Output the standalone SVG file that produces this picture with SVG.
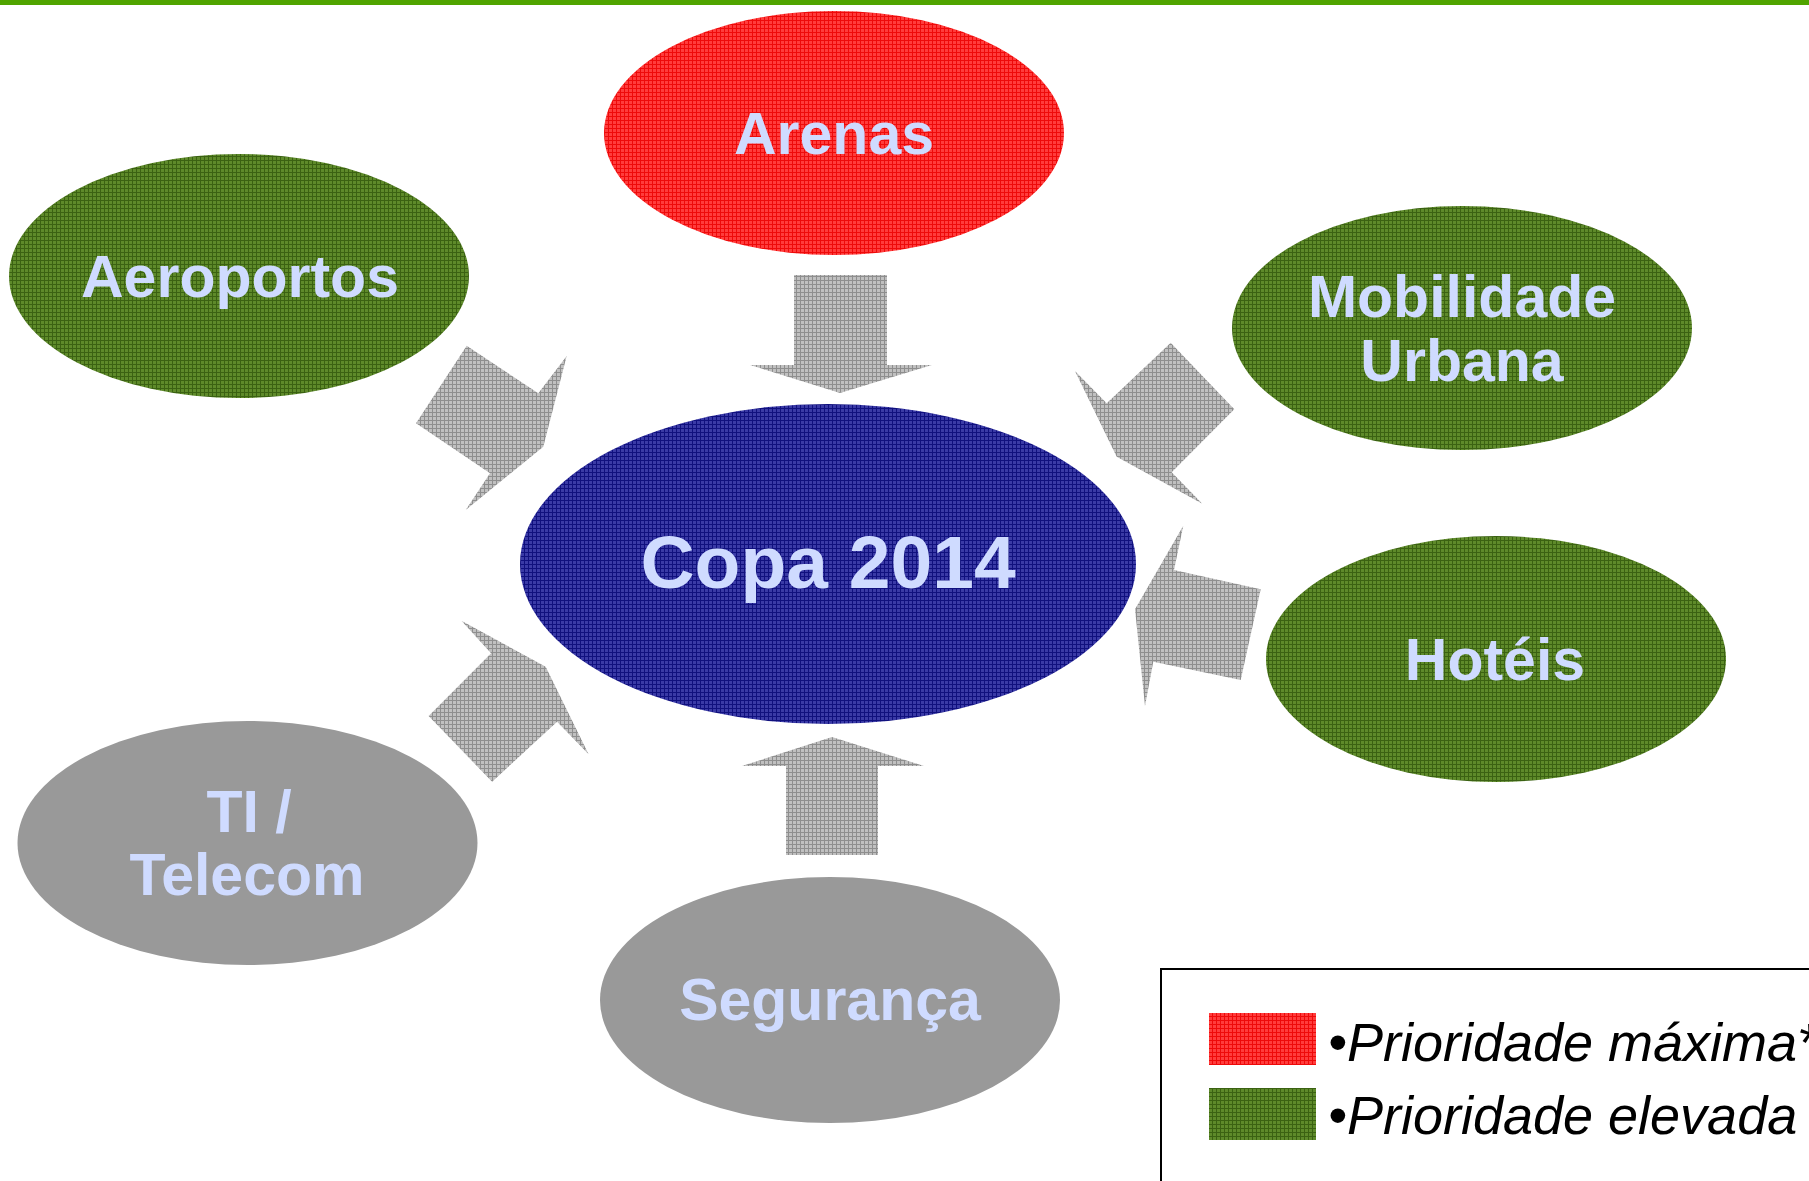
<svg xmlns="http://www.w3.org/2000/svg" width="1809" height="1181" viewBox="0 0 1809 1181">
  <defs>
    <pattern id="pRed" patternUnits="userSpaceOnUse" width="4" height="4">
      <rect width="4" height="4" fill="#ff3c3c"/>
      <rect width="4" height="1" fill="#ee0a0a"/>
      <rect width="1" height="4" fill="#ee0a0a"/>
    </pattern>
    <pattern id="pBlue" patternUnits="userSpaceOnUse" width="4" height="4">
      <rect width="4" height="4" fill="#3a3aa6"/>
      <rect width="4" height="1" fill="#10107e"/>
      <rect width="1" height="4" fill="#10107e"/>
    </pattern>
    <pattern id="pGreen" patternUnits="userSpaceOnUse" width="4" height="4">
      <rect width="4" height="4" fill="#5e8a2a"/>
      <rect width="4" height="1" fill="#3b6212"/>
      <rect width="1" height="4" fill="#3b6212"/>
    </pattern>
    <pattern id="pGray" patternUnits="userSpaceOnUse" width="4" height="4">
      <rect width="4" height="4" fill="#c0c0c0"/>
      <rect width="4" height="1" fill="#8e8e8e"/>
      <rect width="1" height="4" fill="#8e8e8e"/>
    </pattern>
  </defs>
  <style>
    .lbl { font-family: "Liberation Sans", Arial, sans-serif; font-weight: bold; font-size: 59px; fill: #cfdbff; text-anchor: middle; }
    .big { font-size: 75px; }
    .red { fill: url(#pRed); }
    .blue { fill: url(#pBlue); }
    .green { fill: url(#pGreen); }
    .grayn { fill: #999999; }
    .arrow { fill: url(#pGray); }
    .leg { font-family: "Liberation Sans", Arial, sans-serif; font-style: italic; font-size: 54px; fill: #000000; }
  </style>

  <rect x="0" y="0" width="1809" height="1181" fill="#ffffff"/>
  <rect id="topline" x="0" y="0" width="1809" height="5" fill="#50a400"/>

  <g id="connectors">
    <polygon class="arrow" points="794,275 887,275 887,365 932,365 840,393 750,365 794,365"/>
    <polygon class="arrow" points="786,855 878,855 878,766 924,766 832,737 742,766 786,766"/>
    <polygon class="arrow" points="466.7,345.7 538.3,393.3 566.7,356 543.3,446.7 465.7,510 490,473.3 416,423.3"/>
    <polygon class="arrow" points="1170.7,342.7 1234.3,409.3 1171.7,472.3 1202.3,503.7 1116.7,456.7 1075,371 1106.7,403.3"/>
    <polygon class="arrow" points="1260.7,589.3 1240.7,680 1153.3,661.7 1145,706 1135,609.3 1183.3,525.7 1174,570"/>
    <polygon class="arrow" points="428.6,716 492.1,781.7 557.1,721.7 588.6,754.3 545.7,666.7 461.4,620.7 491.1,653.3"/>
  </g>

  <g id="arenas">
    <ellipse class="red" cx="834" cy="133" rx="230" ry="122"/>
    <text class="lbl" x="834" y="154">Arenas</text>
  </g>
  <g id="aeroportos">
    <ellipse class="green" cx="239" cy="276" rx="230" ry="122"/>
    <text class="lbl" x="240" y="297">Aeroportos</text>
  </g>
  <g id="mobilidade">
    <ellipse class="green" cx="1462" cy="328" rx="230" ry="122"/>
    <text class="lbl" x="1462" y="317">Mobilidade</text>
    <text class="lbl" x="1462" y="381">Urbana</text>
  </g>
  <g id="copa">
    <ellipse class="blue" cx="828" cy="564" rx="308" ry="160"/>
    <text class="lbl big" x="828" y="588">Copa 2014</text>
  </g>
  <g id="hoteis">
    <ellipse class="green" cx="1496" cy="659" rx="230" ry="123"/>
    <text class="lbl" x="1495" y="680">Hotéis</text>
  </g>
  <g id="ti">
    <ellipse class="grayn" cx="247.5" cy="843" rx="230" ry="122"/>
    <text class="lbl" x="249" y="832">TI /</text>
    <text class="lbl" x="247" y="895">Telecom</text>
  </g>
  <g id="seguranca">
    <ellipse class="grayn" cx="830" cy="1000" rx="230" ry="123"/>
    <text class="lbl" x="830" y="1020">Segurança</text>
  </g>

  <g id="legend">
    <rect x="1161" y="969" width="700" height="300" fill="#ffffff" stroke="#000000" stroke-width="2"/>
    <rect class="red" x="1209" y="1013" width="107" height="52"/>
    <rect class="green" x="1209" y="1088" width="107" height="52"/>
    <text class="leg" x="1328" y="1061">•Prioridade máxima*</text>
    <text class="leg" x="1328" y="1134">•Prioridade elevada</text>
  </g>
</svg>
